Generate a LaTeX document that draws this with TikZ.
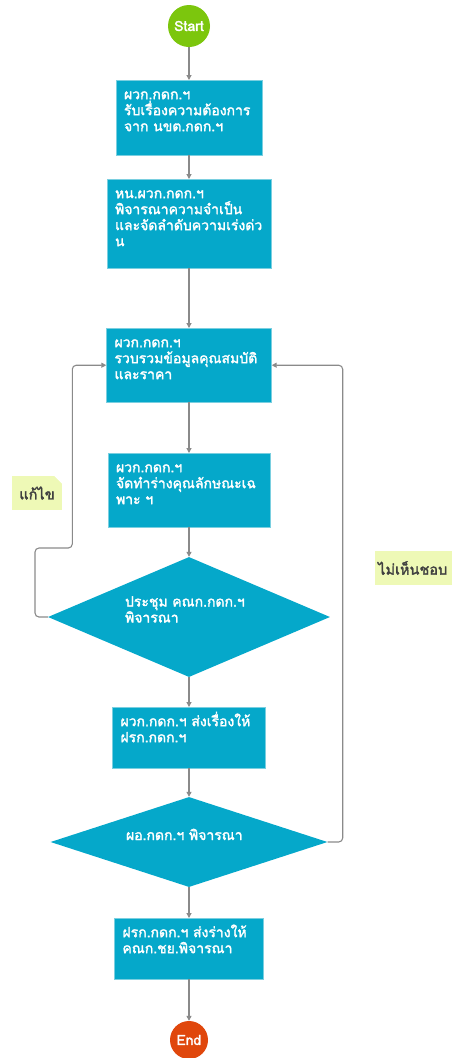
\documentclass[tikz,border=0pt]{standalone}
\usepackage{fontspec}
\newfontfamily\thaifont[Script=Thai,AutoFakeBold=2]{Loma}
\usetikzlibrary{shapes.geometric,arrows.meta}
\definecolor{boxfill}{HTML}{05A8CA}
\definecolor{boxline}{HTML}{7ACFE0}
\definecolor{startgreen}{HTML}{7CC60D}
\definecolor{endred}{HTML}{E0470C}
\definecolor{notefill}{HTML}{EEF9B6}
\definecolor{flowgray}{HTML}{8A8A8A}
\tikzset{
  stepbox/.style={draw=boxline, fill=boxfill, text=white, anchor=north, inner sep=8pt, align=left,
    text height=11pt, font=\thaifont\bfseries\fontsize{14}{16}\selectfont},
  decide/.style={diamond, fill=boxfill, text=white, inner sep=0pt, align=left, text height=11pt,
    font=\thaifont\bfseries\fontsize{14}{16}\selectfont},
  term/.style={circle, text=white, inner sep=0pt, font=\thaifont\bfseries\fontsize{14}{16}\selectfont},
  flow/.style={draw=flowgray, line width=1.1pt, rounded corners=4pt, -{Triangle[width=5pt,length=5pt]}},
  note/.style={fill=notefill, text=black!75, inner sep=3pt, font=\thaifont\bfseries\fontsize{14.5}{16}\selectfont}
}
\begin{document}
\begin{tikzpicture}[x=1pt,y=-1pt]
  \useasboundingbox (0,0) rectangle (452,1058);
  % start / end
  \node[term, fill=startgreen, minimum size=42pt] (start) at (189,26) {Start};
  \node[term, fill=endred, minimum size=38pt] (end) at (189,1040) {End};
  % steps
  \node[stepbox, text width=130pt, text depth=48pt] (s1) at (189,80)
    {ผวก.กดก.ฯ\\รับเรื่องความต้องการ\\จาก นขต.กดก.ฯ};
  \node[stepbox, text width=148pt, text depth=62pt] (s2) at (189,179)
    {หน.ผวก.กดก.ฯ\\พิจารณาความจำเป็น\\และจัดลำดับความเร่งด่ว\\น};
  \node[stepbox, text width=149pt, text depth=47pt] (s3) at (189,328)
    {ผวก.กดก.ฯ\\รวบรวมข้อมูลคุณสมบัติ\\และราคา};
  \node[stepbox, text width=146pt, text depth=47pt] (s4) at (189,453)
    {ผวก.กดก.ฯ\\จัดทำร่างคุณลักษณะเฉ\\พาะ ฯ};
  \node[decide, aspect=2.35, minimum width=282pt, minimum height=120pt, text width=128pt, text depth=32pt] (d1) at (189,617)
    {ประชุม คณก.กดก.ฯ\\พิจารณา};
  \node[stepbox, text width=137pt, text depth=34pt] (s5) at (189,707)
    {ผวก.กดก.ฯ ส่งเรื่องให้\\ฝรก.กดก.ฯ};
  \node[decide, aspect=3.08, minimum width=277pt, minimum height=90pt, text width=126pt, text depth=15pt] (d2) at (189,842)
    {ผอ.กดก.ฯ พิจารณา};
  \node[stepbox, text width=133pt, text depth=34pt] (s6) at (189,918)
    {ฝรก.กดก.ฯ ส่งร่างให้\\คณก.ชย.พิจารณา};
  % notes
  \node[note, minimum width=50pt, minimum height=34pt] (fix) at (37,493) {แก้ไข};
  \fill[white] ([xshift=-8pt]fix.north east) -- (fix.north east) -- ([yshift=-8pt]fix.north east) -- cycle;
  \node[note, anchor=west, minimum height=34pt, text width=90pt, align=left] (reject) at (375,568) {ไม่เห็นชอบ};
  % connectors
  \draw[flow] (start) -- (s1);
  \draw[flow] (s1) -- (s2);
  \draw[flow] (s2) -- (s3);
  \draw[flow] (s3) -- (s4);
  \draw[flow] (s4) -- (d1);
  \draw[flow] (d1) -- (s5);
  \draw[flow] (s5) -- (d2);
  \draw[flow] (d2) -- (s6);
  \draw[flow] (s6) -- (end);
  \draw[flow] (d1.west) -| (35,548) -| ([xshift=-34pt]s3.west) -- (s3.west);
  \draw[flow] (d2.east) -| ([xshift=71pt]s3.east) -- (s3.east);
\end{tikzpicture}
\end{document}
